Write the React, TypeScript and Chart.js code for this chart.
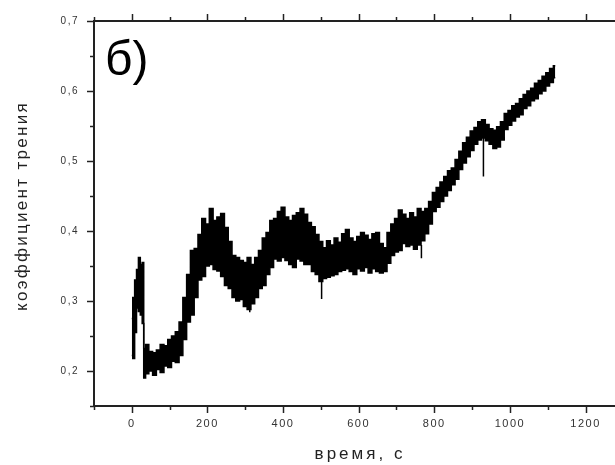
import React, { useEffect, useRef } from "react";
import { Chart, registerables } from "chart.js";

Chart.register(...registerables);

const X_TITLE = "время, с";
const Y_TITLE = "коэффициент трения";
const PANEL_LABEL = "б)";

const X_MIN = -100;
const X_MAX = 1278;
const Y_MIN = 0.15;
const Y_MAX = 0.7;

const times = [
  0, 5, 10, 15, 20, 25, 30, 33, 40, 50, 60, 70, 80, 90, 100, 110, 120, 130, 140, 150,
  160, 170, 180, 190, 200, 210, 220, 230, 240, 250, 260, 270, 280, 290, 300, 310, 320,
  330, 340, 350, 360, 370, 380, 390, 400, 410, 420, 430, 440, 450, 460, 470, 480, 490,
  500, 510, 520, 530, 540, 550, 560, 570, 580, 590, 600, 610, 620, 630, 640, 650, 660,
  670, 680, 690, 700, 710, 720, 730, 740, 750, 760, 770, 780, 790, 800, 810, 820, 830,
  840, 850, 860, 870, 880, 890, 900, 910, 920, 930, 940, 950, 960, 970, 980, 990, 1000,
  1010, 1020, 1030, 1040, 1050, 1060, 1070, 1080, 1090, 1100, 1110, 1120,
];

const upperVals = [
  0.275, 0.305, 0.33, 0.345, 0.362, 0.352, 0.355, 0.232, 0.238, 0.228, 0.226, 0.23, 0.238,
  0.236, 0.245, 0.25, 0.256, 0.27, 0.305, 0.338, 0.372, 0.375, 0.395, 0.418, 0.41, 0.432,
  0.415, 0.42, 0.425, 0.405, 0.385, 0.365, 0.362, 0.358, 0.355, 0.362, 0.352, 0.362, 0.372,
  0.39, 0.398, 0.415, 0.418, 0.428, 0.434, 0.42, 0.415, 0.422, 0.426, 0.432, 0.424, 0.412,
  0.406, 0.395, 0.385, 0.376, 0.386, 0.38, 0.39, 0.384, 0.396, 0.402, 0.39, 0.385, 0.392,
  0.398, 0.394, 0.388, 0.396, 0.398, 0.382, 0.376, 0.398, 0.41, 0.418, 0.43, 0.424, 0.418,
  0.426, 0.42, 0.432, 0.428, 0.432, 0.442, 0.455, 0.462, 0.47, 0.478, 0.486, 0.49, 0.502,
  0.514, 0.526, 0.534, 0.543, 0.548, 0.556, 0.559, 0.552, 0.546, 0.544, 0.549, 0.556, 0.568,
  0.572, 0.579, 0.582, 0.589, 0.595, 0.6, 0.604, 0.611, 0.615, 0.621, 0.626, 0.632, 0.636,
];

const lowerVals = [
  0.222, 0.218, 0.255, 0.29, 0.285, 0.28, 0.268, 0.19, 0.196, 0.2, 0.194, 0.202, 0.198,
  0.207, 0.205, 0.214, 0.212, 0.222, 0.245, 0.27, 0.28, 0.305, 0.33, 0.335, 0.35, 0.352,
  0.345, 0.343, 0.335, 0.322, 0.318, 0.305, 0.3, 0.302, 0.292, 0.288, 0.296, 0.305, 0.318,
  0.322, 0.338, 0.348, 0.36, 0.357, 0.362, 0.358, 0.352, 0.348, 0.36, 0.357, 0.352, 0.352,
  0.342, 0.338, 0.328, 0.332, 0.334, 0.336, 0.338, 0.342, 0.344, 0.346, 0.342, 0.338, 0.346,
  0.343, 0.348, 0.34, 0.346, 0.342, 0.34, 0.342, 0.354, 0.365, 0.37, 0.372, 0.382, 0.378,
  0.38, 0.374, 0.38, 0.386, 0.396, 0.41, 0.428, 0.434, 0.442, 0.45, 0.458, 0.466, 0.474,
  0.488, 0.497, 0.506, 0.515, 0.524, 0.53, 0.533, 0.529, 0.524, 0.518, 0.52, 0.53, 0.545,
  0.551, 0.557, 0.563, 0.566, 0.575, 0.579, 0.586, 0.589, 0.596, 0.6, 0.607, 0.612, 0.619,
];

const spikeTimes = [312, 502, 766, 930];
const spikeTops = [0.33, 0.34, 0.38, 0.533];
const spikeBottoms = [0.284, 0.303, 0.361, 0.478];

const FONT = '"Liberation Sans", Arial, sans-serif';
const AXIS_COLOR = "#222";

const isMajorX = (v: number) => Math.abs(v % 200) < 1e-6;
const isMajorY = (v: number) => Math.abs(v * 10 - Math.round(v * 10)) < 1e-6;

const decoPlugin = {
  id: "deco",
  beforeDraw(chart: any) {
    (chart.ctx as any).letterSpacing = "1.5px";
  },
  afterDraw(chart: any) {
    const { ctx, chartArea: a, scales } = chart;
    const x = scales.x;
    const y = scales.y;
    ctx.save();
    ctx.strokeStyle = AXIS_COLOR;
    ctx.lineWidth = 2;
    ctx.beginPath();
    ctx.moveTo(a.left - 1, a.top);
    ctx.lineTo(a.right, a.top);
    ctx.stroke();
    ctx.lineWidth = 1.5;
    const seg = (x1: number, y1: number, x2: number, y2: number) => {
      ctx.beginPath();
      ctx.moveTo(x1, y1);
      ctx.lineTo(x2, y2);
      ctx.stroke();
    };
    x.ticks.forEach((t: any) => {
      const px = Math.round(x.getPixelForValue(t.value)) + 0.5;
      const L = isMajorX(t.value) ? 7 : 4;
      seg(px, a.bottom, px, a.bottom + L);
      seg(px, a.top, px, a.top - L);
    });
    y.ticks.forEach((t: any) => {
      const py = Math.round(y.getPixelForValue(t.value)) + 0.5;
      const L = isMajorY(t.value) ? 7 : 4;
      seg(a.left, py, a.left - L, py);
    });

    ctx.fillStyle = "#222";
    (ctx as any).letterSpacing = "3px";
    ctx.font = `17px ${FONT}`;
    ctx.textAlign = "center";
    ctx.textBaseline = "alphabetic";
    ctx.fillText(X_TITLE, 360, 459);

    ctx.save();
    (ctx as any).letterSpacing = "2.3px";
    ctx.translate(27, 206);
    ctx.rotate(-Math.PI / 2);
    ctx.fillText(Y_TITLE, 0, 0);
    ctx.restore();

    (ctx as any).letterSpacing = "0px";
    ctx.fillStyle = "#000";
    ctx.font = `48px ${FONT}`;
    ctx.textAlign = "left";
    ctx.fillText(PANEL_LABEL, 105, 75);
    ctx.restore();
    (ctx as any).letterSpacing = "0px";
  },
};

export default function App() {
  const ref = useRef<HTMLCanvasElement | null>(null);

  useEffect(() => {
    if (!ref.current) return;
    const upper = times.map((t, i) => ({ x: t, y: upperVals[i] }));
    const lower = times.map((t, i) => ({ x: t, y: lowerVals[i] }));
    const spikes = spikeTimes.map((t, i) => ({
      type: "line" as const,
      data: [
        { x: t, y: spikeTops[i] },
        { x: t, y: spikeBottoms[i] },
      ],
      borderColor: "#000",
      borderWidth: 1.5,
      pointRadius: 0,
      fill: false,
    }));
    const chart = new Chart(ref.current, {
      type: "line",
      data: {
        datasets: [
          {
            data: upper,
            borderColor: "#000",
            borderWidth: 1.5,
            pointRadius: 0,
            stepped: "middle",
            fill: false,
          },
          {
            data: lower,
            borderColor: "#000",
            borderWidth: 1.5,
            pointRadius: 0,
            stepped: "middle",
            backgroundColor: "#000",
            fill: "-1",
          },
          ...spikes,
        ] as any,
      },
      options: {
        animation: false,
        responsive: false,
        layout: { padding: { top: 20, right: 0, left: 0, bottom: 0 } },
        plugins: {
          legend: { display: false },
          tooltip: { enabled: false },
        },
        scales: {
          x: {
            type: "linear",
            position: "bottom",
            min: X_MIN,
            max: X_MAX,
            grid: { display: false, drawTicks: false },
            border: { display: true, color: AXIS_COLOR, width: 2 },
            ticks: {
              stepSize: 100,
              includeBounds: false,
              autoSkip: false,
              maxRotation: 0,
              padding: 11,
              color: "#333",
              font: { family: FONT, size: 11 },
              callback: (v: any) => (isMajorX(Number(v)) && Number(v) >= 0 ? String(v) : ""),
            },
            afterFit: (s: any) => {
              s.height = 59;
            },
          },
          y: {
            type: "linear",
            min: Y_MIN,
            max: Y_MAX,
            grid: { display: false, drawTicks: false },
            border: { display: true, color: AXIS_COLOR, width: 2 },
            ticks: {
              stepSize: 0.05,
              includeBounds: false,
              autoSkip: false,
              padding: 15,
              color: "#333",
              font: { family: FONT, size: 10 },
              callback: (v: any) => {
                const n = Number(v);
                return isMajorY(n) ? n.toFixed(1).replace(".", ",") : "";
              },
            },
            afterFit: (s: any) => {
              s.width = 94;
            },
          },
        },
      },
      plugins: [decoPlugin],
    });
    return () => chart.destroy();
  }, []);

  return (
    <div style={{ position: "absolute", left: 0, top: 0, width: 615, height: 465, background: "#fff" }}>
      <canvas ref={ref} width={615} height={465} />
    </div>
  );
}
